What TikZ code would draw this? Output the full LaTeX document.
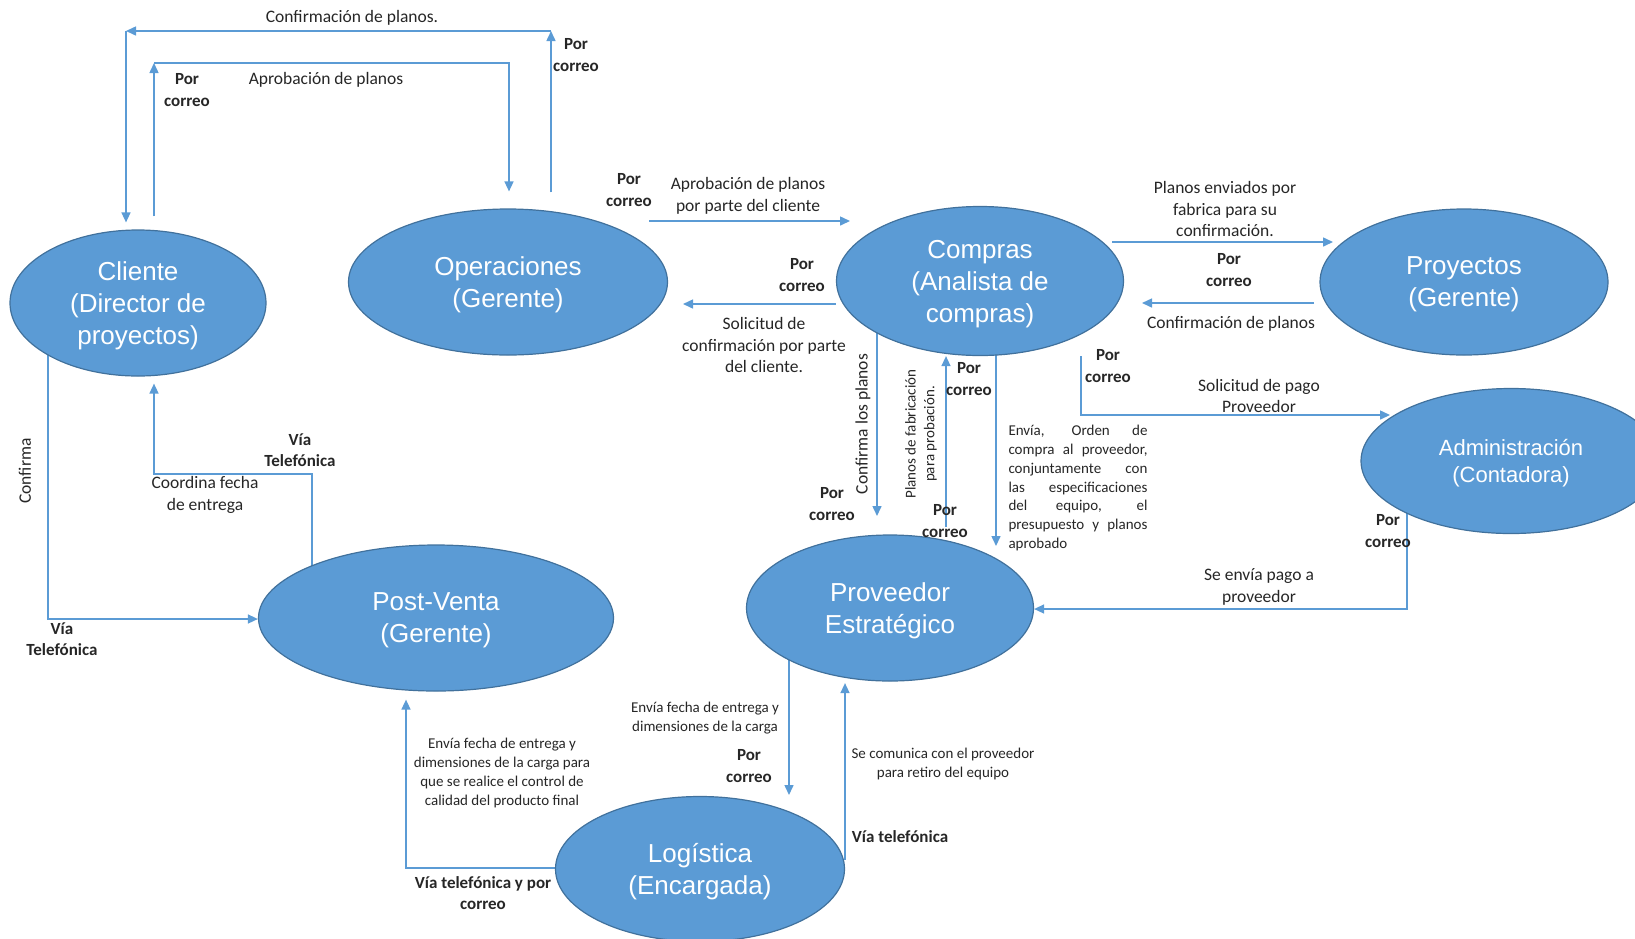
\documentclass[tikz,border=0pt]{standalone}
\usepackage{fontspec}
\setmainfont{Carlito}
\newfontfamily\rolefont{Liberation Sans}
\usetikzlibrary{shapes.geometric,arrows.meta}
\pgfdeclarelayer{bg}
\pgfsetlayers{bg,main}
\definecolor{fillblue}{HTML}{5B9BD5}
\definecolor{edgeblue}{HTML}{41719C}
\definecolor{linkblue}{HTML}{5B9BD5}
\definecolor{ink}{HTML}{262626}
\tikzset{
  roleshape/.style={ellipse, draw=edgeblue, line width=1.2pt, fill=fillblue, text=white,
    font=\rolefont\fontsize{26}{32}\selectfont, align=center, inner sep=0pt, text depth=0pt},
  arrowline/.style={draw=linkblue, line width=1.5pt, -{Triangle[length=10pt,width=9pt]}},
  lbl/.style={text=ink, font=\fontsize{17.5}{21.5}\selectfont, align=center, inner sep=0pt},
  via/.style={text=ink, font=\bfseries\fontsize{17}{21.5}\selectfont, align=center, inner sep=0pt},
  note/.style={text=ink, font=\fontsize{15}{18.8}\selectfont, align=center, inner sep=0pt},
}
\begin{document}
\begin{tikzpicture}[x=1pt,y=-1pt]
\clip (0,0) rectangle (1635,938);

% roles
\node[roleshape, minimum width=256pt, minimum height=146pt] (cli) at (138,303) {Cliente\\(Director de\\proyectos)};
\node[roleshape, minimum width=319pt, minimum height=146pt] (ops) at (508,282) {Operaciones\\(Gerente)};
\node[roleshape, minimum width=287pt, minimum height=149pt] (com) at (980,281) {Compras\\(Analista de\\compras)};
\node[roleshape, minimum width=288pt, minimum height=146pt] (pro) at (1464,282) {Proyectos\\(Gerente)};
\node[roleshape, minimum width=300pt, minimum height=145pt, font=\rolefont\fontsize{22}{27}\selectfont] (adm) at (1511,461) {Administración\\(Contadora)};
\node[roleshape, minimum width=355pt, minimum height=146pt] (pv) at (436,618) {Post-Venta\\(Gerente)};
\node[roleshape, minimum width=287pt, minimum height=146pt] (prv) at (890,608) {Proveedor\\Estratégico};
\node[roleshape, minimum width=289pt, minimum height=145pt] (log) at (700,869) {Logística\\(Encargada)};

% corner and end points
\coordinate (p1) at (551,31);
\coordinate (p2) at (126,31);
\coordinate (p3) at (154,63);
\coordinate (p4) at (509,63);
\coordinate (p5) at (649,221);
\coordinate (p6) at (850,221);
\coordinate (p7) at (683,304);
\coordinate (p8) at (1112,242);
\coordinate (p9) at (1333,242);
\coordinate (p10) at (1314,303);
\coordinate (p11) at (1142,303);
\coordinate (p12) at (1081,415);
\coordinate (p13) at (1390,415);
\coordinate (p14) at (1407,609);
\coordinate (p15) at (877,516);
\coordinate (p16) at (946,527);
\coordinate (p17) at (996,546);
\coordinate (p18) at (48,619);
\coordinate (p19) at (312,474);
\coordinate (p20) at (154,474);
\coordinate (p21) at (406,868);
\coordinate (p22) at (789,795);
\coordinate (p23) at (845,860);

\begin{pgfonlayer}{bg}
  % Operaciones -> Cliente
  \draw[arrowline, shorten <=16pt] (ops.north -| p1) -- (p1);
  \draw[arrowline] (p1) -- (p2);
  \draw[arrowline, shorten >=7pt] (p2) -- (p2 |- cli.north);
  % Cliente -> Operaciones
  \draw[arrowline, shorten <=13pt] (cli.north -| p3) -- (p3);
  \draw[arrowline, shorten >=17pt] (p3) -- (p4) -- (p4 |- ops.north);
  % Operaciones <-> Compras
  \draw[arrowline] (p5) -- (p6);
  \draw[arrowline] (com.west |- p7) -- (p7);
  % Compras <-> Proyectos
  \draw[arrowline] (p8) -- (p9);
  \draw[arrowline] (p10) -- (p11);
  % Compras -> Administracion
  \draw[arrowline] (com.south -| p12) -- (p12) -- (p13);
  % Administracion -> Proveedor
  \draw[arrowline] (adm.center -| p14) -- (p14) -- (p14 -| prv.east);
  % Compras <-> Proveedor
  \draw[arrowline] (com.center -| p15) -- (p15);
  \draw[arrowline] (p16) -- (p16 |- com.south);
  \draw[arrowline] (com.center -| p17) -- (p17);
  % Cliente -> Post-Venta
  \draw[arrowline] (cli.center -| p18) -- (p18) -- (p18 -| pv.west);
  % Post-Venta -> Cliente
  \draw[arrowline, shorten >=7pt] (pv.center -| p19) -- (p19) -- (p20) -- (p20 |- cli.south);
  % Logistica -> Post-Venta
  \draw[arrowline, shorten >=8pt] (log.center |- p21) -- (p21) -- (p21 |- pv.south);
  % Proveedor <-> Logistica
  \draw[arrowline] (prv.center -| p22) -- (p22);
  \draw[arrowline, shorten >=1.5pt] (p23) -- (p23 |- prv.south);
\end{pgfonlayer}

% labels
\node[lbl] (t1) at (352,18) {Confirmación de planos.};
\node[via] (t1v) at (576,55) {Por\\correo};
\node[lbl] (t2) at (326,80) {Aprobación de planos};
\node[via] (t2v) at (187,90) {Por\\correo};
\node[lbl] (t3) at (748,196) {Aprobación de planos\\por parte del cliente};
\node[via] (t3v) at (629,190) {Por\\correo};
\node[via] (t4v) at (802,275) {Por\\correo};
\node[lbl] (t4) at (764,345) {Solicitud de\\confirmación por parte\\del cliente.};
\node[lbl] (t5) at (1225,209) {Planos enviados por\\fabrica para su\\confirmación.};
\node[via] (t5v) at (1229,270) {Por\\correo};
\node[lbl] (t6) at (1231,324) {Confirmación de planos};
\node[via] (t7v) at (1108,366) {Por\\correo};
\node[lbl] (t7) at (1259,396) {Solicitud de pago\\Proveedor};
\node[via] (t8v) at (1388,531) {Por\\correo};
\node[lbl] (t8) at (1259,587) {Se envía pago a\\proveedor};
\node[lbl, rotate=90] (t9) at (863,424) {Confirma los planos};
\node[via] (t9v) at (832,504) {Por\\correo};
\node[note, rotate=90] (t10) at (921,434) {Planos de fabricación\\para probación.};
\node[via] (t10v) at (969,379) {Por\\correo};
\node[via] (t10w) at (945,521) {Por\\correo};
\node[note, text width=139pt, align=justify] (t11) at (1078,488)
  {Envía, Orden de\linebreak compra al proveedor,\linebreak conjuntamente con\linebreak las especificaciones\linebreak del equipo, el\linebreak presupuesto y planos\linebreak aprobado};
\node[lbl, rotate=90] (t12) at (25,471) {Confirma};
\node[via] (t12v) at (62,639) {Vía\\Telefónica};
\node[via] (t13v) at (300,450) {Vía\\Telefónica};
\node[lbl] (t13) at (205,495) {Coordina fecha\\de entrega};
\node[note] (t14) at (502,773) {Envía fecha de entrega y\\dimensiones de la carga para\\que se realice el control de\\calidad del producto final};
\node[via] (t14v) at (483,893) {Vía telefónica y por\\correo};
\node[note] (t15) at (705,718) {Envía fecha de entrega y\\dimensiones de la carga};
\node[via] (t15v) at (749,766) {Por\\correo};
\node[via] (t16v) at (900,837) {Vía telefónica};
\node[note] (t16) at (943,764) {Se comunica con el proveedor\\para retiro del equipo};
\end{tikzpicture}
\end{document}
